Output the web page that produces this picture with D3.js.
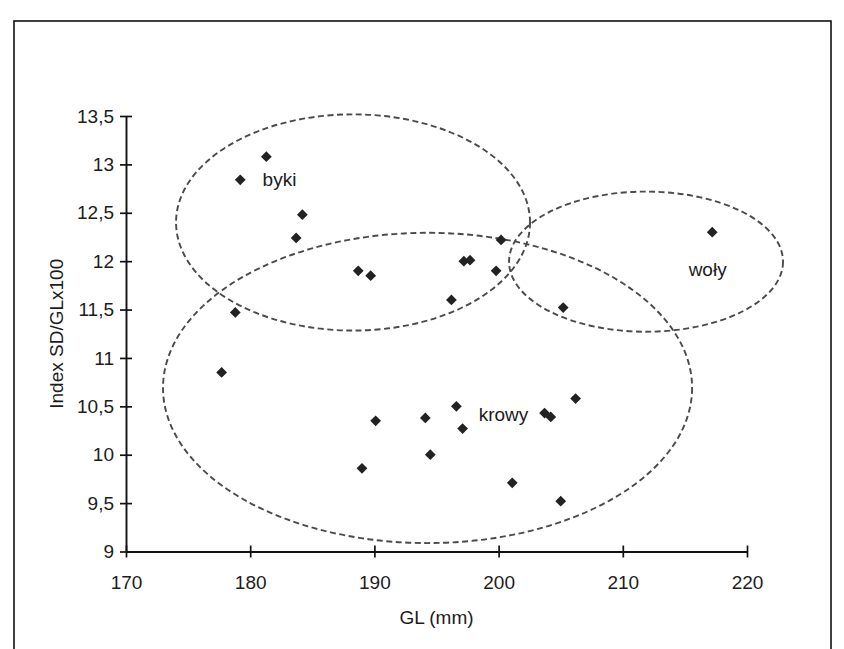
<!DOCTYPE html>
<html>
<head>
<meta charset="utf-8">
<script src="https://cdn.jsdelivr.net/npm/d3@7"></script>
<style>
  body { margin: 0; background: #fff; }
  text { font-family: "Liberation Sans", Arial, sans-serif; fill: #1c1c1c; }
</style>
</head>
<body>
<script>
// GL (mm) and index SD/GLx100
const glValues = [181.3, 179.2, 184.2, 183.7, 188.7, 189.7, 200.2, 197.2, 197.7, 199.8, 196.2, 205.2, 217.2,
                  177.7, 178.8, 190.1, 194.1, 196.6, 197.1, 194.5, 189.0, 203.7, 204.2, 206.2, 201.1, 205.0];
const indexValues = [13.08, 12.84, 12.48, 12.24, 11.90, 11.85, 12.22, 12.00, 12.01, 11.90, 11.60, 11.52, 12.30,
                     10.85, 11.47, 10.35, 10.38, 10.50, 10.27, 10.00, 9.86, 10.43, 10.39, 10.58, 9.71, 9.52];

const xTicks = [170, 180, 190, 200, 210, 220];
const yTicks = [9, 9.5, 10, 10.5, 11, 11.5, 12, 12.5, 13, 13.5];

// group outlines (in data units) and their names
const groupNames = ["byki", "krowy", "woły"];
const groupCx = [188.28, 194.28, 211.87];
const groupCy = [12.40, 10.69, 11.995];
const groupRx = [14.25, 21.30, 11.03];
const groupRy = [1.117, 1.603, 0.724];
const labelX = [181.0, 198.4, 215.3];
const labelY = [12.78, 10.35, 11.85];

const width = 844, height = 649;
const fontSize = "19px";

const svg = d3.select("body")
    .append("svg")
    .attr("width", width)
    .attr("height", height)

// outer frame
svg.append("rect")
    .attr("x", 14).attr("y", 21)
    .attr("width", 817).attr("height", 660)
    .attr("fill", "none")
    .attr("stroke", "#111")
    .attr("stroke-width", 1.6)

const x = d3.scaleLinear().domain([170, 220]).range([126, 747]);
const y = d3.scaleLinear().domain([9, 13.5]).range([551.5, 116]);

const comma = v => String(v).replace(".", ",");

// ellipses behind points
svg.selectAll("ellipse")
    .data(groupNames).enter()
    .append("ellipse")
    .attr("cx", (d, i) => x(groupCx[i]))
    .attr("cy", (d, i) => y(groupCy[i]))
    .attr("rx", (d, i) => x(groupCx[i] + groupRx[i]) - x(groupCx[i]))
    .attr("ry", (d, i) => y(groupCy[i]) - y(groupCy[i] + groupRy[i]))
    .attr("fill", "none")
    .attr("stroke", "#4a4a4a")
    .attr("stroke-width", 1.9)
    .attr("stroke-dasharray", "6,3.5")

const xAxis = d3.axisBottom(x)
    .tickValues(xTicks)
    .tickSizeInner(6)
    .tickSizeOuter(0)
    .tickPadding(18)
    .tickFormat(d3.format("d"));

const yAxis = d3.axisLeft(y)
    .tickValues(yTicks)
    .tickSizeInner(6)
    .tickSizeOuter(0)
    .tickPadding(6)
    .tickFormat(comma);

const gx = svg.append("g")
    .attr("transform", "translate(0," + y(9) + ")")
    .call(xAxis);
gx.selectAll(".tick line").attr("y1", -6);

const gy = svg.append("g")
    .attr("transform", "translate(" + x(170) + ",0)")
    .call(yAxis);
gy.selectAll(".tick line").attr("x1", 6);

[gx, gy].forEach(g => {
    g.select(".domain").attr("stroke", "#111").attr("stroke-width", 1.9);
    g.selectAll(".tick line").attr("stroke", "#111").attr("stroke-width", 1.7);
    g.selectAll(".tick text")
        .attr("font-size", fontSize)
        .attr("font-family", "'Liberation Sans', Arial, sans-serif")
        .attr("fill", "#1c1c1c");
});

// axis titles
svg.append("text")
    .attr("x", (x(170) + x(220)) / 2)
    .attr("y", 624)
    .attr("text-anchor", "middle")
    .attr("font-size", fontSize)
    .text("GL (mm)");

svg.append("text")
    .attr("transform", "translate(63," + (y(9) + y(13.5)) / 2 + ") rotate(-90)")
    .attr("text-anchor", "middle")
    .attr("font-size", fontSize)
    .text("Index SD/GLx100");

// points
const diamond = d3.symbol().type(d3.symbolSquare).size(58);
svg.selectAll("path.pt")
    .data(glValues).enter()
    .append("path")
    .attr("class", "pt")
    .attr("d", diamond)
    .attr("transform", (d, i) => "translate(" + x(d) + "," + y(indexValues[i]) + ") rotate(45)")
    .attr("fill", "#222")

// group names
svg.selectAll("text.grp")
    .data(groupNames).enter()
    .append("text")
    .attr("class", "grp")
    .attr("x", (d, i) => x(labelX[i]))
    .attr("y", (d, i) => y(labelY[i]))
    .attr("font-size", fontSize)
    .text(d => d)
</script>
</body>
</html>
